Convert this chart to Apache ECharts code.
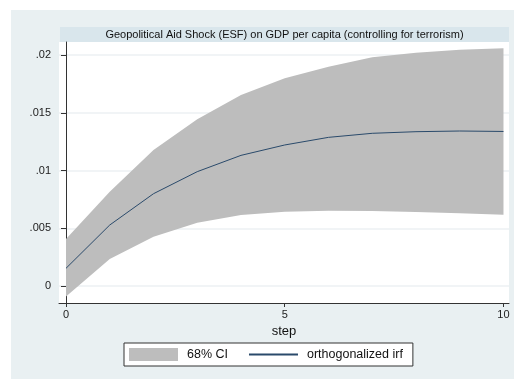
<!DOCTYPE html>
<html>
<head>
<meta charset="utf-8">
<script src="https://cdn.jsdelivr.net/npm/echarts@6/dist/echarts.min.js"></script>
<style>
html,body{margin:0;padding:0;background:#fff;}
#c{width:514px;height:379px;}
</style>
</head>
<body>
<div id="c"></div>
<script>
const steps = [0, 1, 2, 3, 4, 5, 6, 7, 8, 9, 10];
const irf = [0.00153, 0.00528, 0.00799, 0.00990, 0.01131, 0.01221, 0.01287, 0.01322, 0.01336, 0.01342, 0.01338];
const upper = [0.00407, 0.00817, 0.01177, 0.01443, 0.01654, 0.01798, 0.01899, 0.01980, 0.02020, 0.02046, 0.02058];
const lower = [-0.00092, 0.00234, 0.00427, 0.00548, 0.00615, 0.00643, 0.00652, 0.00649, 0.00641, 0.00629, 0.00617];
const xTicks = [0, 5, 10];
const yTicks = [0, 0.005, 0.01, 0.015, 0.02];
const yTickLabels = ['0', '.005', '.01', '.015', '.02'];
const titleText = 'Geopolitical Aid Shock (ESF) on GDP per capita (controlling for terrorism)';

const chart = echarts.init(document.getElementById('c'));
const FONT = 'Liberation Sans, Arial, sans-serif';

const bandData = steps.map((s, i) => [s, lower[i], upper[i]]);
const irfData = steps.map((s, i) => [s, irf[i]]);

function renderBand(params, api) {
  if (params.dataIndex !== 0) return null;
  const top = [], bottom = [];
  for (let i = 0; i < bandData.length; i++) {
    top.push(api.coord([bandData[i][0], bandData[i][2]]));
    bottom.push(api.coord([bandData[i][0], bandData[i][1]]));
  }
  const pts = top.concat(bottom.reverse());
  return {
    type: 'polygon',
    shape: { points: pts },
    style: { fill: '#bdbdbd', stroke: 'none' }
  };
}

chart.setOption({
  backgroundColor: '#ffffff',
  animation: false,
  graphic: [
    { type: 'rect', left: 11, top: 10, z: -10, shape: { width: 503, height: 369 }, style: { fill: '#e9f0f2' } },
    { type: 'rect', left: 60, top: 27, z: -9, shape: { width: 449, height: 15 }, style: { fill: '#d9e6ec' } }
  ],
  title: {
    text: titleText,
    left: 284.5,
    top: 27,
    textAlign: 'center',
    padding: 0,
    textStyle: { fontFamily: FONT, fontSize: 11, fontWeight: 'normal', color: '#111', lineHeight: 15 }
  },
  legend: {
    left: 124,
    top: 343,
    padding: [5, 10, 5, 5],
    itemWidth: 49,
    itemHeight: 13,
    itemGap: 20,
    backgroundColor: '#ffffff',
    borderColor: '#333333',
    borderWidth: 1,
    borderRadius: 0,
    textStyle: { fontFamily: FONT, fontSize: 12.5, color: '#111', padding: [0, 0, 0, 4], lineHeight: 13 },
    data: [
      { name: '68% CI', icon: 'rect', itemStyle: { color: '#bdbdbd' } },
      { name: 'orthogonalized irf', itemStyle: { opacity: 0 } }
    ]
  },
  grid: { left: 59, right: 5, top: 42, bottom: 76, show: true, backgroundColor: '#ffffff', borderWidth: 0 },
  xAxis: {
    type: 'value',
    min: -0.16,
    max: 10.126,
    name: 'step',
    nameLocation: 'middle',
    nameGap: 21,
    nameTextStyle: { fontFamily: FONT, fontSize: 13, color: '#111' },
    axisLine: { show: true, onZero: false, lineStyle: { color: '#333', width: 1 } },
    axisTick: { show: true, length: 4, customValues: xTicks, lineStyle: { color: '#333' } },
    axisLabel: { customValues: xTicks, fontFamily: FONT, fontSize: 11, color: '#222', margin: 6 },
    splitLine: { show: false }
  },
  yAxis: {
    type: 'value',
    min: -0.001472,
    max: 0.021126,
    axisLine: { show: true, lineStyle: { color: '#333', width: 1 } },
    axisTick: { show: true, length: 5, customValues: yTicks, lineStyle: { color: '#333' } },
    axisLabel: {
      customValues: yTicks,
      fontFamily: FONT, fontSize: 11, color: '#222', margin: 8,
      formatter: function (v) {
        const i = yTicks.findIndex(t => Math.abs(t - v) < 1e-9);
        return i >= 0 ? yTickLabels[i] : '';
      }
    },
    splitLine: { show: true, lineStyle: { color: '#edf1f3', width: 1.5 } }
  },
  series: [
    {
      name: '68% CI', type: 'custom', data: bandData,
      encode: { x: 0, y: [1, 2] },
      renderItem: renderBand,
      itemStyle: { color: '#bdbdbd' },
      clip: false, z: 2, silent: true
    },
    {
      name: 'orthogonalized irf', type: 'line', data: irfData,
      symbol: 'none', lineStyle: { color: '#2a4a6b', width: 1 },
      itemStyle: { color: '#2a4a6b' }, z: 3
    }
  ]
});
</script>
</body>
</html>
